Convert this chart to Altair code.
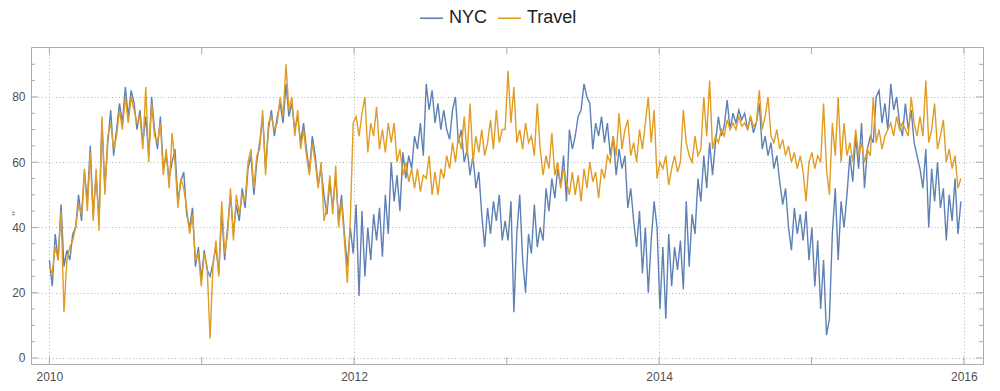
import altair as alt
import pandas as pd

BLUE = "#5E81B5"
ORANGE = "#E19C24"
FRAME = "#ababab"
GRID = "#b4b4b4"
LAB = "#505050"

SERIES = ["NYC", "Travel"]

NYC_2010 = [30, 22, 38, 30, 47, 28, 33, 30, 38, 40, 50, 42, 57, 48, 65, 44, 56, 42, 72, 52,
            66, 76, 62, 70, 78, 72, 83, 74, 82, 78, 70, 76, 66, 74, 62, 80, 70, 64, 74, 58,
            62, 55, 60, 64, 48, 54, 57, 44, 40, 46, 28, 34]
TRAVEL_2010 = [28, 26, 34, 30, 45, 14, 30, 34, 36, 40, 47, 44, 58, 45, 63, 42, 58, 39, 74, 50,
               68, 72, 64, 68, 76, 70, 80, 72, 80, 76, 72, 74, 64, 83, 60, 78, 68, 66, 72, 56,
               64, 52, 69, 60, 46, 55, 52, 46, 38, 44, 30, 32]
NYC_2011 = [24, 33, 27, 25, 29, 34, 26, 45, 30, 40, 50, 38, 47, 42, 52, 46, 58, 62, 50, 60,
            66, 74, 58, 70, 76, 68, 74, 78, 72, 84, 74, 78, 70, 74, 66, 72, 64, 57, 68, 62,
            53, 58, 50, 44, 54, 46, 56, 42, 50, 38, 28, 40]
TRAVEL_2011 = [22, 32, 28, 6, 28, 36, 25, 48, 32, 38, 52, 36, 50, 44, 50, 48, 60, 64, 52, 62,
               64, 76, 56, 72, 74, 70, 72, 80, 74, 90, 76, 80, 68, 76, 64, 70, 62, 56, 66, 60,
               52, 60, 42, 46, 56, 44, 59, 40, 48, 36, 23, 42]
NYC_2012 = [32, 47, 19, 45, 25, 40, 30, 44, 36, 46, 31, 50, 38, 60, 48, 56, 45, 63, 55, 62,
            58, 68, 64, 72, 62, 84, 76, 82, 72, 78, 70, 76, 70, 67, 76, 80, 66, 70, 60, 64,
            56, 62, 52, 57, 44, 34, 46, 38, 48, 42, 50, 36]
TRAVEL_2012 = [72, 74, 68, 75, 80, 63, 72, 68, 77, 64, 70, 63, 72, 66, 72, 60, 64, 56, 60, 54,
               58, 52, 58, 51, 56, 55, 62, 50, 57, 50, 58, 55, 62, 58, 66, 60, 68, 64, 74, 62,
               78, 60, 68, 63, 70, 62, 66, 73, 64, 76, 66, 70]
NYC_2013 = [42, 36, 48, 14, 38, 50, 30, 20, 38, 32, 47, 34, 40, 36, 52, 45, 55, 49, 58, 53,
            62, 48, 70, 64, 68, 74, 76, 84, 80, 78, 64, 72, 68, 74, 66, 72, 62, 68, 56, 64,
            58, 62, 46, 52, 42, 34, 45, 26, 40, 20, 36, 48]
TRAVEL_2013 = [70, 88, 72, 83, 66, 70, 64, 72, 66, 68, 62, 78, 64, 56, 62, 58, 69, 56, 60, 52,
               58, 54, 50, 57, 50, 56, 48, 58, 52, 60, 54, 57, 49, 58, 55, 62, 60, 68, 62, 75,
               64, 70, 73, 62, 66, 60, 70, 64, 72, 80, 66, 76]
NYC_2014 = [40, 15, 34, 12, 38, 22, 34, 27, 36, 21, 48, 28, 44, 38, 55, 48, 62, 52, 66, 56,
            66, 74, 68, 71, 79, 70, 75, 72, 76, 73, 75, 70, 74, 69, 72, 78, 64, 68, 62, 66,
            58, 62, 54, 47, 52, 40, 33, 46, 38, 44, 36, 45]
TRAVEL_2014 = [55, 60, 58, 62, 53, 58, 62, 57, 60, 76, 66, 62, 60, 68, 62, 64, 80, 68, 85, 64,
               68, 66, 70, 68, 73, 70, 72, 70, 74, 71, 72, 70, 74, 71, 72, 82, 70, 74, 80, 68,
               66, 70, 64, 67, 62, 65, 60, 63, 58, 62, 57, 48]
NYC_2015 = [30, 40, 22, 36, 15, 30, 7, 12, 38, 52, 30, 48, 40, 50, 62, 54, 68, 58, 72, 52,
            64, 68, 66, 80, 82, 72, 78, 70, 84, 76, 80, 72, 68, 78, 70, 76, 66, 62, 58, 52,
            64, 40, 58, 48, 60, 46, 52, 36, 50, 42, 55, 38, 48]
TRAVEL_2015 = [60, 63, 58, 62, 60, 78, 58, 50, 72, 62, 80, 60, 72, 62, 66, 60, 70, 62, 66, 60,
               64, 62, 80, 66, 70, 64, 68, 70, 72, 68, 74, 70, 72, 70, 68, 80, 72, 68, 74, 68,
               85, 66, 70, 78, 64, 68, 73, 60, 64, 58, 62, 52, 55]

Y_MAJOR = [0, 20, 40, 60, 80]
Y_MINOR = [5, 10, 15, 25, 30, 35, 45, 50, 55, 65, 70, 75, 85, 90]
X_YEARS = [2010, 2011, 2012, 2013, 2014, 2015, 2016]
X_LABELED = [2010, 2012, 2014, 2016]

nyc = NYC_2010 + NYC_2011 + NYC_2012 + NYC_2013 + NYC_2014 + NYC_2015
travel = TRAVEL_2010 + TRAVEL_2011 + TRAVEL_2012 + TRAVEL_2013 + TRAVEL_2014 + TRAVEL_2015
dates = pd.date_range("2010-01-01", periods=len(nyc), freq="7D").strftime("%Y-%m-%dT00:00:00")
wide = pd.DataFrame({"date": dates, "NYC": nyc, "Travel": travel})
long = wide.melt("date", var_name="series", value_name="temp")

W, H = 952, 317

xscale = alt.Scale(domain=[alt.DateTime(year=2009, month=11, date=18),
                           alt.DateTime(year=2016, month=2, date=16)])
yscale = alt.Scale(domain=[-1.84, 95.3], nice=False, zero=False)

lines = alt.Chart(long).mark_line(strokeWidth=1.4, clip=True).encode(
    x=alt.X("date:T", scale=xscale,
            axis=alt.Axis(values=[alt.DateTime(year=y, month=1, date=1) for y in X_LABELED],
                          format="%Y", title=None, grid=True, gridDash=[1, 2.5],
                          gridColor=GRID, labelPadding=7, labelFlush=False,
                          domain=False, ticks=False)),
    y=alt.Y("temp:Q", scale=yscale,
            axis=alt.Axis(values=Y_MAJOR, title='"', titleFontSize=11, titleColor="#999999",
                          titleX=-21, titleY=166, titleAngle=270, titleBaseline="top",
                          titleAlign="center", grid=True, gridDash=[1, 2.5],
                          gridColor=GRID, labelPadding=6, domain=False, ticks=False)),
    color=alt.Color("series:N", scale=alt.Scale(domain=SERIES, range=[BLUE, ORANGE]),
                    legend=alt.Legend(title=None, orient="none", legendX=388, legendY=-41.5,
                                      direction="horizontal", symbolType="stroke",
                                      symbolSize=529, symbolStrokeWidth=1.6,
                                      labelFontSize=18, labelColor="#222222",
                                      labelFont="Liberation Sans", labelOffset=5,
                                      columnPadding=6, padding=0)),
)

ymaj = pd.DataFrame({"temp": Y_MAJOR})
ymin = pd.DataFrame({"temp": Y_MINOR})
xt = pd.DataFrame({"date": [f"{y}-01-01T00:00:00" for y in X_YEARS]})


def yticks(df, a, b):
    return alt.Chart(df).mark_rule(color=FRAME, strokeWidth=1).encode(
        y=alt.Y("temp:Q", scale=yscale), x=alt.value(a), x2=alt.value(b))


def xticks(a, b):
    return alt.Chart(xt).mark_rule(color=FRAME, strokeWidth=1).encode(
        x=alt.X("date:T", scale=xscale), y=alt.value(a), y2=alt.value(b))


layers = [
    lines,
    yticks(ymaj, 0, 7), yticks(ymin, 0, 4),
    yticks(ymaj, W, W - 7), yticks(ymin, W, W - 4),
    xticks(H, H - 7), xticks(0, 7),
]

chart = alt.layer(*layers).properties(
    width=W, height=H,
    autosize=alt.AutoSizeParams(type="none"),
    padding={"left": 23, "top": 39, "right": 9, "bottom": 19},
).configure_view(stroke=FRAME, strokeWidth=1).configure_axis(
    labelFontSize=12, labelColor=LAB,
    labelFont="Liberation Sans", titleFont="Liberation Sans",
)

chart.save("out.html", embed_options={"renderer": "svg", "actions": False})
